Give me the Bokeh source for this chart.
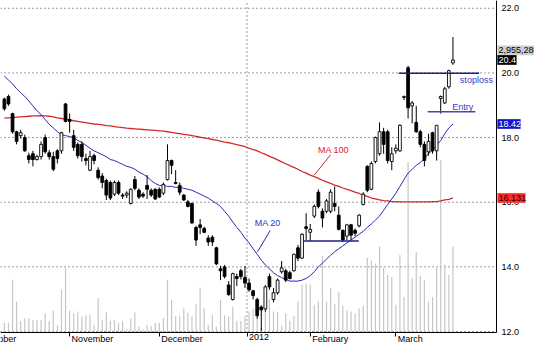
from bokeh.plotting import figure
from bokeh.models import Range1d, FixedTicker, Label, ColumnDataSource, PrintfTickFormatter, LinearAxis
from bokeh.core.properties import value
from bokeh.embed import file_html
from bokeh.resources import INLINE

FONT = "Liberation Sans"

# ---------------- data ----------------
bar_index = list(range(111))

opens = [19.19, 19.27, 18.74, 18.18, 18.06, 18.00, 17.44, 17.50, 17.32, 17.41,
         18.00, 17.53, 17.41, 17.59, 17.59, 19.04, 18.56, 18.06, 17.79, 17.79,
         17.35, 16.99, 17.44, 16.99, 16.81, 16.67, 16.61, 16.25, 16.61, 16.22,
         16.22, 15.96, 16.70, 16.37, 16.25, 16.52, 16.37, 16.40, 16.40, 16.28,
         16.70, 17.29, 16.61, 16.52, 16.22, 16.01, 15.96, 15.22, 15.30, 15.19,
         14.89, 14.92, 14.59, 13.94, 14.00, 13.44, 12.99, 13.70, 13.88, 13.67,
         13.50, 13.26, 12.99, 12.76, 12.70, 13.70, 12.99, 13.20, 13.85, 13.88,
         13.82, 13.88, 14.59, 14.27, 15.24, 15.07, 15.57, 16.31, 15.72, 15.72,
         15.72, 15.96, 15.60, 15.13, 14.95, 15.30, 15.13, 15.27, 15.93, 17.11,
         16.40, 17.26, 17.50, 18.18, 18.18, 17.26, 17.59, 17.59, 19.24, 20.16,
         18.98, 18.47, 18.18, 17.79, 17.56, 18.15, 17.59, 19.21, 19.07, 19.57,
         20.31]

closes = [18.89, 19.04, 18.18, 17.88, 18.15, 17.59, 17.32, 17.32, 17.41, 17.79,
          17.56, 17.41, 17.02, 17.35, 18.15, 18.50, 18.50, 17.70, 17.44, 17.41,
          17.29, 17.41, 17.29, 16.76, 16.61, 16.22, 16.13, 16.61, 16.28, 16.19,
          16.28, 16.40, 16.43, 16.16, 16.19, 16.40, 16.22, 16.10, 16.16, 16.55,
          17.29, 17.14, 16.58, 16.31, 16.07, 15.87, 15.36, 14.83, 15.22, 15.07,
          14.77, 14.77, 14.09, 13.88, 13.70, 13.14, 13.79, 13.64, 13.70, 13.50,
          13.29, 13.11, 12.49, 12.67, 13.38, 13.38, 13.20, 13.59, 13.97, 13.59,
          13.64, 14.39, 14.27, 15.01, 15.19, 15.16, 15.87, 15.87, 15.51, 16.04,
          16.31, 15.87, 15.16, 14.83, 15.30, 14.98, 15.04, 15.60, 16.25, 16.37,
          17.20, 18.00, 18.18, 17.79, 17.29, 17.50, 17.67, 18.38, 19.27, 18.92,
          19.07, 18.18, 17.79, 17.29, 17.88, 17.59, 18.38, 19.27, 19.51, 20.07,
          20.40]

highs = [19.24, 19.33, 18.77, 18.21, 18.24, 18.09, 17.53, 17.59, 17.47, 17.88,
         18.09, 17.61, 17.56, 17.64, 18.18, 19.07, 18.74, 18.24, 17.85, 17.88,
         17.50, 17.59, 17.50, 17.08, 16.90, 16.73, 16.67, 16.67, 16.67, 16.28,
         16.34, 16.43, 16.81, 16.43, 16.31, 16.84, 16.43, 16.43, 16.46, 16.61,
         17.79, 17.32, 16.99, 16.61, 16.25, 16.07, 15.99, 15.27, 15.48, 15.24,
         14.98, 14.98, 14.62, 14.03, 14.06, 13.56, 13.82, 13.79, 13.94, 14.03,
         13.64, 13.29, 13.05, 12.81, 13.44, 13.79, 13.35, 13.64, 14.18, 13.94,
         13.88, 14.41, 14.68, 15.04, 15.66, 15.33, 15.93, 16.40, 15.81, 16.10,
         16.40, 16.49, 15.87, 15.16, 15.33, 15.33, 15.19, 15.63, 16.31, 17.14,
         17.26, 18.03, 18.47, 18.30, 18.24, 17.70, 17.79, 18.41, 19.30, 20.22,
         19.13, 18.98, 18.24, 17.88, 18.12, 18.18, 18.38, 19.30, 19.57, 20.10,
         21.11]

lows = [18.83, 18.98, 18.12, 17.79, 17.97, 17.56, 17.20, 17.11, 17.29, 17.32,
        17.50, 17.32, 16.96, 17.20, 17.50, 18.47, 18.15, 17.59, 17.35, 17.26,
        17.14, 16.96, 17.17, 16.70, 16.43, 16.07, 16.07, 16.19, 16.22, 16.10,
        16.13, 15.93, 16.37, 16.10, 16.13, 16.10, 16.16, 16.07, 16.13, 16.22,
        16.67, 16.87, 16.55, 16.22, 16.04, 15.84, 15.33, 14.65, 15.01, 15.04,
        14.65, 14.65, 14.06, 13.59, 13.64, 13.11, 12.96, 13.41, 13.61, 13.35,
        13.23, 12.99, 12.40, 12.01, 12.61, 13.29, 12.90, 13.14, 13.79, 13.53,
        13.61, 13.85, 14.18, 14.24, 14.83, 14.80, 15.51, 15.81, 15.22, 15.66,
        15.66, 15.72, 15.13, 14.77, 14.83, 14.83, 14.95, 15.22, 15.90, 16.31,
        16.37, 17.20, 17.44, 17.50, 17.20, 16.99, 17.50, 17.56, 19.16, 18.59,
        18.44, 18.15, 17.70, 17.11, 17.44, 17.50, 17.29, 18.74, 19.04, 19.51,
        20.25]

volumes = [328000, 328000, 1806000, 1051000, 394000, 493000, 493000, 427000, 427000, 427000,
           657000, 394000, 755000, 263000, 1478000, 2233000, 755000, 657000, 722000, 558000,
           591000, 591000, 263000, 1182000, 427000, 690000, 394000, 427000, 328000, 394000,
           99000, 493000, 690000, 197000, 99000, 263000, 230000, 328000, 328000, 493000,
           1806000, 1117000, 558000, 558000, 821000, 690000, 558000, 985000, 1543000, 821000,
           263000, 591000, 197000, 1117000, 591000, 558000, 887000, 394000, 394000, 558000,
           722000, 821000, 920000, 164000, 722000, 1149000, 722000, 690000, 230000, 657000,
           394000, 558000, 1084000, 1642000, 1675000, 1642000, 952000, 1051000, 2627000, 1051000,
           1543000, 985000, 1379000, 920000, 755000, 722000, 657000, 821000, 920000, 2562000,
           2463000, 2364000, 2955000, 2233000, 1970000, 1905000, 952000, 2660000, 1215000, 5845000,
           1872000, 2759000, 1938000, 1806000, 1051000, 1215000, 2233000, 5911000, 2332000, 1970000,
           2955280]

ma20 = [19.90, 19.78, 19.66, 19.51, 19.39, 19.27, 19.13, 18.98, 18.83, 18.71,
        18.56, 18.41, 18.30, 18.18, 18.09, 18.06, 18.03, 18.00, 17.91, 17.85,
        17.76, 17.67, 17.59, 17.53, 17.47, 17.41, 17.32, 17.29, 17.23, 17.17,
        17.11, 17.08, 17.02, 16.93, 16.87, 16.79, 16.67, 16.58, 16.52, 16.52,
        16.49, 16.49, 16.46, 16.46, 16.43, 16.40, 16.37, 16.31, 16.25, 16.19,
        16.13, 16.04, 15.96, 15.87, 15.72, 15.57, 15.39, 15.22, 15.07, 14.89,
        14.74, 14.56, 14.39, 14.21, 14.06, 13.94, 13.82, 13.73, 13.67, 13.61,
        13.56, 13.56, 13.56, 13.59, 13.64, 13.73, 13.85, 14.00, 14.12, 14.24,
        14.36, 14.47, 14.56, 14.65, 14.74, 14.83, 14.92, 15.01, 15.10, 15.22,
        15.33, 15.45, 15.57, 15.75, 15.93, 16.10, 16.28, 16.49, 16.70, 16.90,
        17.02, 17.14, 17.23, 17.35, 17.50, 17.61, 17.76, 17.91, 18.12, 18.30,
        18.42]

ma100 = [18.60, 18.61, 18.62, 18.63, 18.64, 18.65, 18.66, 18.67, 18.67, 18.68,
         18.67, 18.66, 18.64, 18.61, 18.59, 18.57, 18.55, 18.52, 18.50, 18.48,
         18.46, 18.44, 18.42, 18.41, 18.39, 18.37, 18.36, 18.34, 18.32, 18.31,
         18.29, 18.28, 18.27, 18.26, 18.25, 18.24, 18.23, 18.22, 18.21, 18.20,
         18.18, 18.16, 18.14, 18.12, 18.10, 18.08, 18.06, 18.04, 18.01, 17.99,
         17.97, 17.94, 17.92, 17.89, 17.86, 17.84, 17.81, 17.78, 17.75, 17.72,
         17.67, 17.63, 17.59, 17.53, 17.48, 17.42, 17.37, 17.31, 17.25, 17.19,
         17.13, 17.08, 17.02, 16.95, 16.90, 16.84, 16.79, 16.74, 16.68, 16.63,
         16.58, 16.53, 16.49, 16.44, 16.40, 16.36, 16.31, 16.27, 16.22, 16.18,
         16.13, 16.10, 16.07, 16.05, 16.04, 16.02, 16.02, 16.01, 16.01, 16.01,
         16.01, 16.01, 16.01, 16.01, 16.01, 16.02, 16.02, 16.04, 16.07, 16.09,
         16.131]

price_ticks = [12.0, 14.0, 16.0, 18.0, 20.0, 22.0]
month_ticks = [16, 38, 59.5, 75, 96]
month_labels = ["November", "December", "2012", "February", "March"]
first_month_label = "October"
first_month_pos = -5.4
year_break = 59.5

stop_level, stop_from, stop_to = 19.99, 96.7, 116.4
entry_level, entry_from, entry_to = 18.80, 103.8, 115.5
support_level, support_from, support_to = 14.80, 73.3, 86.9

# ---------------- layout constants ----------------
X_LO, X_HI = -0.95, 120.7        # visible price-chart span (bars)
X_END = 130.0                    # includes the right label column
Y_LO, Y_HI = 11.97, 22.24        # visible price span
Y_START = 11.475                 # includes the month-label row
VOL_TOP = 11394000               # volume at the top of the chart
vol_per_unit = VOL_TOP / (Y_HI - Y_LO)

p = figure(width=534, height=348, output_backend="svg", toolbar_location=None,
           x_range=Range1d(X_LO, X_END), y_range=Range1d(Y_START, Y_HI),
           x_axis_location=None, y_axis_location=None,
           min_border=0, min_border_left=0, min_border_right=0,
           min_border_top=0, min_border_bottom=0, outline_line_color=None,
           background_fill_color="white", border_fill_color="white")
p.xgrid.visible = False
p.ygrid.visible = False
p.extra_y_ranges = {"vol": Range1d(-(Y_LO - Y_START) * vol_per_unit, VOL_TOP)}

# right price axis, fixed at the chart's right edge
yax = LinearAxis(fixed_location=X_HI, bounds=(Y_LO, Y_HI),
                 ticker=FixedTicker(ticks=price_ticks),
                 formatter=PrintfTickFormatter(format="%.1f"))
yax.major_tick_out = 0
yax.major_tick_in = 0
yax.minor_tick_out = 0
yax.minor_tick_in = 0
yax.major_label_standoff = 5
yax.major_label_text_font = FONT
yax.major_label_text_font_size = "9px"
yax.major_label_text_color = "black"
yax.axis_line_color = "black"
p.add_layout(yax, "right")

# bottom time axis (tick marks), fixed at the chart's bottom edge
xax = LinearAxis(fixed_location=Y_LO, bounds=(X_LO, X_HI),
                 ticker=FixedTicker(ticks=month_ticks))
xax.major_tick_out = 4
xax.major_tick_in = 0
xax.minor_tick_out = 0
xax.minor_tick_in = 0
xax.major_label_overrides = {t: "" for t in month_ticks}
xax.axis_line_color = "black"
p.add_layout(xax, "below")

# dotted grid
n = len(price_ticks)
p.segment(x0=[X_LO] * n, y0=price_ticks, x1=[X_HI] * n, y1=price_ticks,
          line_color="#3a3a3a", line_dash="1 3", line_width=1)
p.segment(x0=[year_break], y0=[Y_LO], x1=[year_break], y1=[Y_HI],
          line_color="#3a3a3a", line_dash="1 3", line_width=1)

# volume
p.segment(x0=bar_index, y0=[0] * len(bar_index), x1=bar_index, y1=volumes,
          y_range_name="vol", line_color="#c6c6c6", line_width=1.2)

# moving averages
p.line(bar_index, ma100, line_color="#d22a2a", line_width=1.3)
p.line(bar_index, ma20, line_color="#2a2ab4", line_width=1)

# candles
tops = [max(o, c) for o, c in zip(opens, closes)]
bots = [min(o, c) for o, c in zip(opens, closes)]
fills = ["white" if c >= o else "black" for o, c in zip(opens, closes)]
src = ColumnDataSource(dict(x=bar_index, top=tops, bottom=bots, high=highs, low=lows, fill=fills))
p.segment(x0="x", y0="low", x1="x", y1="high", source=src, line_color="black", line_width=1)
p.vbar(x="x", width=0.68, top="top", bottom="bottom", source=src,
       fill_color="fill", line_color="black", line_width=0.9)

# trade levels
p.segment(x0=[stop_from], y0=[stop_level], x1=[stop_to], y1=[stop_level], line_color="#1c1c8a", line_width=1.4)
p.segment(x0=[entry_from], y0=[entry_level], x1=[entry_to], y1=[entry_level], line_color="#4848b0", line_width=1.4)
p.segment(x0=[support_from], y0=[support_level], x1=[support_to], y1=[support_level], line_color="#1c1c8a", line_width=1.4)

# leader lines for MA labels
p.segment(x0=[65.2], y0=[15.13], x1=[62.1], y1=[14.47], line_color="#2a2ab4", line_width=1)
p.segment(x0=[80.0], y0=[17.47], x1=[76.0], y1=[16.84], line_color="#d22a2a", line_width=1)

def txt(x, y, t, color):
    p.add_layout(Label(x=x, y=y, text=t, text_color=color, text_font=FONT,
                       text_font_size="9px", text_baseline="middle", text_align="left"))

txt(61.4, 15.36, "MA 20", "#3030c0")
txt(76.9, 17.61, "MA 100", "#e02424")
txt(111.7, 19.78, "stoploss", "#3a3ac8")
txt(109.8, 18.95, "Entry", "#3a3ac8")

# month labels under the axis
mx = [first_month_pos] + month_ticks
ml = [first_month_label] + month_labels
p.text(x=mx, y=[Y_LO - 0.06] * len(mx), text=ml, x_offset=2,
       text_font=value(FONT), text_font_size=value("9px"), text_color="black",
       text_align="left", text_baseline="top")

# value boxes on the right axis
box_y = [20.70, closes[-1], ma20[-1], ma100[-1]]
box_text = [f"{volumes[-1]:,}", f"{closes[-1]:.1f}", f"{ma20[-1]:.2f}", f"{ma100[-1]:.3f}"]
box_right = [X_END, X_HI + 4.9, X_HI + 5.9, X_HI + 7.1]
box_fill = ["#cfcfcf", "black", "#1414d2", "#ff2a2a"]
box_ink = ["black", "white", "white", "#200000"]
half_h = 0.15
p.quad(left=[X_HI + 0.2] * 4, right=box_right,
       top=[y + half_h for y in box_y], bottom=[y - half_h for y in box_y],
       fill_color=box_fill, line_color=None, level="annotation")
p.text(x=[X_HI + 0.2] * 4, y=box_y, text=box_text, x_offset=1,
       text_font=value(FONT), text_font_size=value("9px"), text_color=box_ink,
       text_align="left", text_baseline="middle", level="annotation")

open("out.html", "w").write(file_html(p, INLINE))
